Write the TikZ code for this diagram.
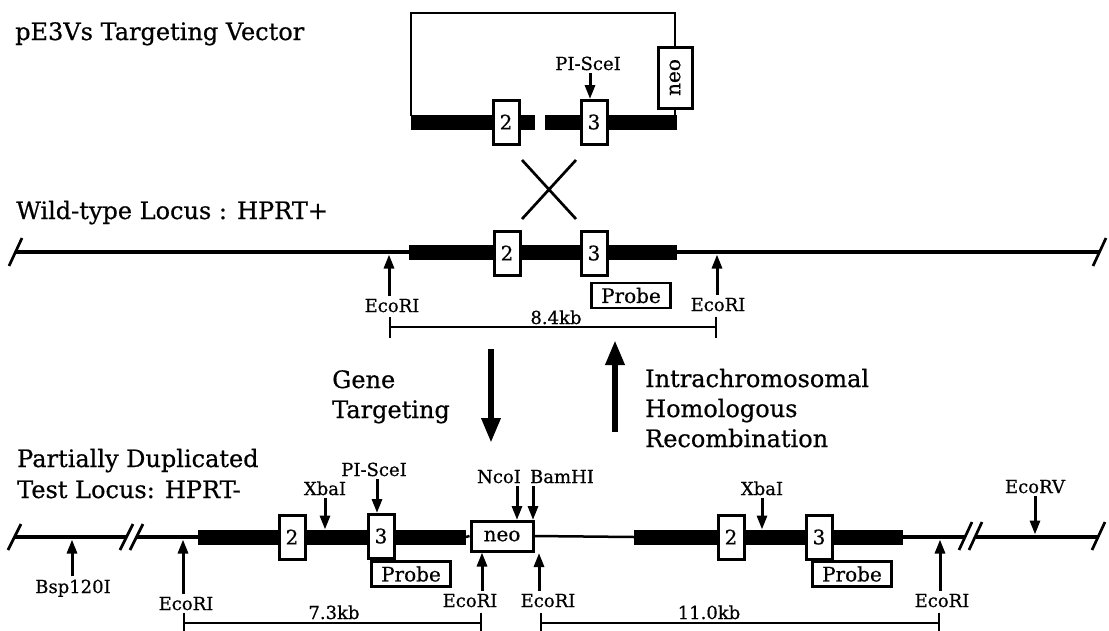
\documentclass[tikz,border=0pt]{standalone}
\usepackage{fontspec}
\setmainfont{DejaVu Serif}[FakeBold=0.6]
\usetikzlibrary{arrows.meta}
\newcommand{\biglab}{\fontsize{24}{30}\selectfont}
\newcommand{\sitelab}{\fontsize{18}{22}\selectfont}
\newcommand{\boxlab}{\fontsize{20}{24}\selectfont}
\tikzset{
  locus/.style={line width=4.5pt},
  thinlocus/.style={line width=2.5pt},
  exonbar/.style={line width=15pt},
  brk/.style={line width=2.7pt},
  exon/.style={draw, fill=white, line width=3pt, minimum width=26pt, minimum height=44pt, inner sep=0pt, font=\boxlab},
  probe/.style={draw, fill=white, line width=2.8pt, minimum width=79pt, minimum height=25pt, inner sep=0pt, font=\boxlab},
  neobox/.style={draw, fill=white, line width=3pt, minimum width=62pt, minimum height=30pt, inner sep=0pt, font=\boxlab},
  heading/.style={anchor=base west, font=\biglab, inner sep=0pt},
  site/.style={anchor=base, font=\sitelab, inner sep=0pt},
  cut/.style={line width=3pt, -{Triangle[length=14pt,width=10pt]}},
  sizebar/.style={line width=2pt, {Bar[width=21pt]}-{Bar[width=21pt]}},
  bigarrow/.style={line width=6.5pt, -{Triangle[length=25pt,width=18pt]}}
}
\begin{document}
\begin{tikzpicture}[x=1pt, y=-1pt]
\useasboundingbox (0,0) rectangle (1109,630);

% targeting vector
\node[heading] (vecname) at (15,40) {pE3Vs Targeting Vector};
\draw[exonbar] (411,122) -- (535,122);
\draw[exonbar] (545,122) -- (677,122);
\node[neobox, rotate=90, minimum width=61pt, minimum height=34pt] (vneo) at (675,77.5) {neo};
\draw[brk] (411,116) |- (675,13) -- (vneo.east);
\draw[brk] (vneo.west) -- (675,116);
\node[exon] (v2) at (506,122) {2};
\node[exon] (v3) at (594,122) {3};
\node[site] (vsce) at (588,70) {PI-SceI};
\coordinate (vscec) at (590,99);
\draw[cut, shorten <=3pt] (vsce.south -| vscec) -- (vscec);

% crossover
\coordinate (xa) at (522,160);
\coordinate (xb) at (576,160);
\coordinate (xc) at (522,219);
\coordinate (xd) at (576,219);
\draw[brk] (xa) -- (xd) (xb) -- (xc);

% wild-type locus
\node[heading] (wtname) at (16,219) {Wild-type Locus : HPRT+};
\draw[brk] (9,266) -- (22,238);
\draw[locus] (16,252) -- (1099,252);
\draw[brk] (1093,266) -- (1106,238);
\draw[exonbar] (409,252) -- (677,252);
\node[exon] (w2) at (507,253) {2};
\node[exon] (w3) at (594,253) {3};
\node[probe] (wprobe) at (631,295.5) {Probe};
\node[site] (weco1) at (392,312) {EcoRI};
\node[site] (weco2) at (718,311) {EcoRI};
\coordinate (weco1c) at (389,254.5);
\coordinate (weco2c) at (717,254.5);
\draw[cut, shorten <=3pt] (weco1.north -| weco1c) -- (weco1c);
\draw[cut, shorten <=3pt] (weco2.north -| weco2c) -- (weco2c);
\node[site] (wkb) at (556,324) {8.4kb};
\coordinate (wbar1) at (389,327);
\coordinate (wbar2) at (717,327);
\draw[sizebar] (wbar1) -- (wbar2);

% conversion arrows
\coordinate (gt1) at (491,349);
\coordinate (gt2) at (491,443);
\draw[bigarrow] (gt1) -- (gt2);
\coordinate (hr1) at (615,432);
\coordinate (hr2) at (615,340);
\draw[bigarrow] (hr1) -- (hr2);
\node[heading] (gtA) at (332,388) {Gene};
\node[heading] (gtB) at (332,418) {Targeting};
\node[heading] (hrA) at (645,387) {Intrachromosomal};
\node[heading] (hrB) at (645,417) {Homologous};
\node[heading] (hrC) at (645,447) {Recombination};

% duplicated test locus
\node[heading] (ptA) at (17,467) {Partially Duplicated};
\node[heading] (ptB) at (17,498) {Test Locus: HPRT-};
\draw[brk] (8,550) -- (21,524);
\draw[locus] (15,537) -- (126,537);
\draw[brk] (120,550) -- (133,524);
\draw[brk] (130,550) -- (143,524);
\draw[locus] (137,537) -- (198,537);
\draw[exonbar] (198,537) -- (466,537);
\node[neobox] (tneo) at (502,536) {neo};
\draw[thinlocus] (466,537) -- (tneo.west);
\draw[thinlocus] (tneo.east) -- (634,537);
\draw[exonbar] (634,537) -- (903,537);
\draw[locus] (903,537) -- (965,537);
\draw[brk] (959,550) -- (972,522);
\draw[brk] (969,550) -- (982,522);
\draw[locus] (976,537) -- (1099,537);
\draw[brk] (1092,550) -- (1105,522);
\node[exon] (t2a) at (292,537) {2};
\node[exon] (t3a) at (381,536) {3};
\node[exon] (t2b) at (731,537) {2};
\node[exon] (t3b) at (819,537) {3};
\node[probe] (tprobeA) at (411,574) {Probe};
\node[probe] (tprobeB) at (852,574) {Probe};

% sites above
\node[site] (xba1) at (325,495) {XbaI};
\node[site] (sce) at (374,476) {PI-SceI};
\node[site] (nco) at (499,483) {NcoI};
\node[site] (bam) at (562,483) {BamHI};
\node[site] (xba2) at (762,495) {XbaI};
\node[site] (ecorv) at (1035,493) {EcoRV};
\coordinate (xba1c) at (325,529.5);
\coordinate (scec) at (377,513);
\coordinate (ncoc) at (517,520);
\coordinate (bamc) at (533,520);
\coordinate (xba2c) at (762,529.5);
\coordinate (ecorvc) at (1035,534.5);
\foreach \s in {xba1,sce,nco,bam,xba2,ecorv}
  \draw[cut, shorten <=3pt] (\s.south -| \s c) -- (\s c);

% sites below
\node[site] (bsp) at (73,593) {Bsp120I};
\node[site] (teco1) at (186,610) {EcoRI};
\node[site] (teco2) at (470,607) {EcoRI};
\node[site] (teco3) at (548,607) {EcoRI};
\node[site] (teco4) at (942,607) {EcoRI};
\coordinate (bspc) at (72,539.5);
\coordinate (teco1c) at (183,539.5);
\coordinate (teco2c) at (482,552.5);
\coordinate (teco3c) at (539,553);
\coordinate (teco4c) at (940,539.5);
\foreach \s in {bsp,teco1,teco2,teco3,teco4}
  \draw[cut, shorten <=3pt] (\s.north -| \s c) -- (\s c);

% fragment sizes
\node[site] (tkbA) at (334,619) {7.3kb};
\node[site] (tkbB) at (709,619) {11.0kb};
\coordinate (tbar1) at (183,623);
\coordinate (tbar2) at (482,623);
\coordinate (tbar3) at (540,623);
\coordinate (tbar4) at (940,623);
\draw[sizebar] (tbar1) -- (tbar2);
\draw[sizebar] (tbar3) -- (tbar4);
\end{tikzpicture}
\end{document}
